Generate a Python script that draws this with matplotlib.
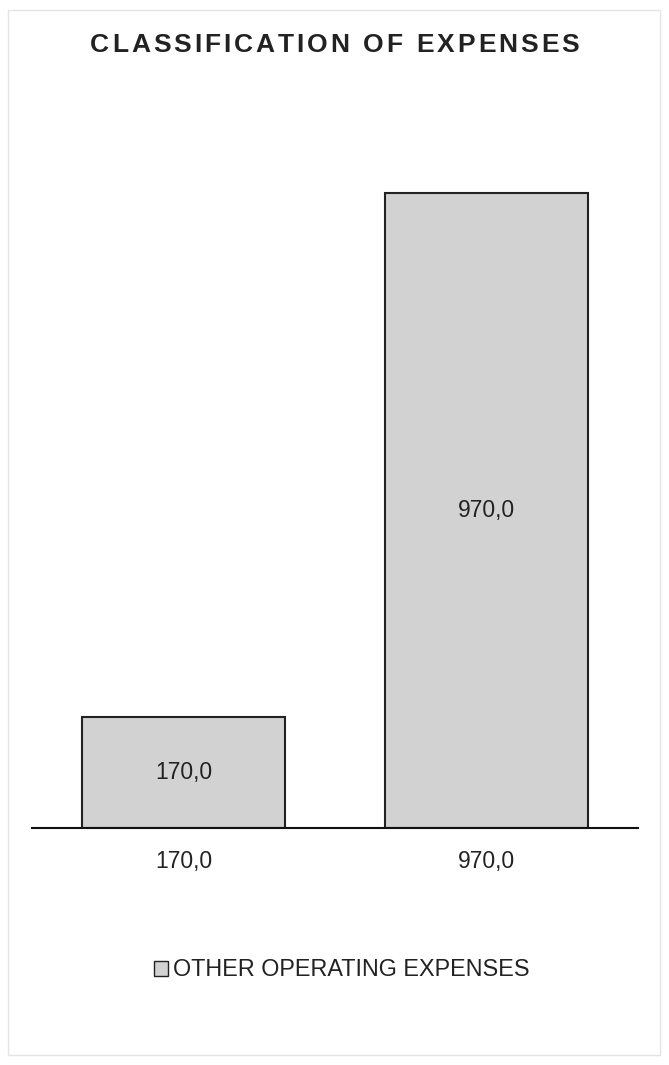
import matplotlib.pyplot as plt
from matplotlib.patches import Rectangle

categories = ['170,0', '970,0']
values = [170.0, 970.0]
series_name = 'OTHER OPERATING EXPENSES'
title = 'CLASSIFICATION OF EXPENSES'

plt.rcParams['font.family'] = ['Liberation Sans', 'DejaVu Sans']

W, H = 669, 1065
fig = plt.figure(figsize=(W / 100, H / 100), dpi=100)
fig.patch.set_facecolor('white')

# faint page border
fig.add_artist(Rectangle((8 / W, 10 / H), 652 / W, 1045 / H, transform=fig.transFigure,
                         fill=False, edgecolor='#e4e4e4', linewidth=1))

ax = fig.add_axes([32 / W, 1 - 828 / H, 606 / W, (828 - 107.5) / H])
x = range(len(categories))
bars = ax.bar(x, values, width=0.67, color='#d2d2d2', edgecolor='#222222',
              linewidth=1.5, label=series_name)

for b, v in zip(bars, values):
    ax.text(b.get_x() + b.get_width() / 2, v / 2, f'{v:.1f}'.replace('.', ','),
            ha='center', va='center', fontsize=16.5, color='#222222')

ax.set_xlim(-0.5, 1.5)
ax.set_ylim(0, 1100)
ax.set_xticks(list(x))
ax.set_xticklabels(categories, fontsize=16.5, color='#222222')
ax.tick_params(axis='x', length=0, pad=16)
ax.set_yticks([])
for s in ['top', 'right', 'left']:
    ax.spines[s].set_visible(False)
ax.spines['bottom'].set_linewidth(1.5)
ax.spines['bottom'].set_color('#111111')

# title with letter spacing: place each character by its measured width
renderer = fig.canvas.get_renderer()
tracking = 3.0  # px between letters
widths = []
for ch in title:
    t = fig.text(0, 0, ch if ch != ' ' else 'I', fontsize=19, fontweight='bold')
    widths.append(t.get_window_extent(renderer).width)
    t.remove()
total = sum(widths) + tracking * (len(title) - 1)
xpos = (W - total) / 2
for ch, w in zip(title, widths):
    fig.text(xpos / W, 1 - 45 / H, ch, ha='left', va='center', fontsize=19,
             fontweight='bold', color='#222222')
    xpos += w + tracking

leg = fig.legend(handles=[bars[0]], labels=[series_name], loc='center',
                 bbox_to_anchor=(342 / W, 1 - 970 / H), frameon=False, fontsize=16.8,
                 handlelength=0.6, handleheight=0.6, handletextpad=0.2)
for t in leg.get_texts():
    t.set_color('#222222')
leg.legend_handles[0].set_linewidth(1)

fig.savefig('out.png', dpi=100)
